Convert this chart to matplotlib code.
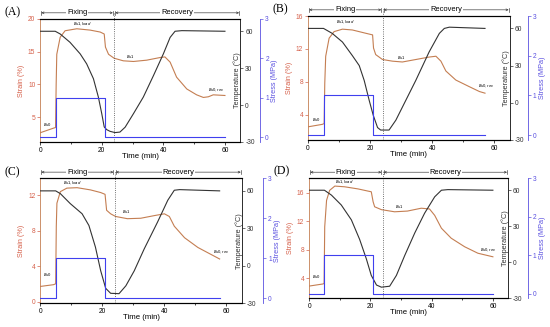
import numpy as np
import matplotlib.pyplot as plt

plt.rcParams['font.family'] = ['Liberation Sans', 'DejaVu Sans']
plt.rcParams['axes.unicode_minus'] = False
plt.rcParams['mathtext.fontset'] = 'custom'
plt.rcParams['mathtext.rm'] = 'Liberation Sans'
plt.rcParams['mathtext.it'] = 'Liberation Sans:italic'

# ---- panel A ----
a_strain_t = [0, 4.3, 5.0, 5.2, 5.4, 6.5, 8.1, 11.9, 16.2, 19.5, 20.8, 21.2, 22.2, 24, 27, 30.3,
              34.6, 38.9, 40.5, 42.2, 44.3, 47.6, 50.8, 53, 54.6, 56.2, 60]
a_strain = [2.6, 3.3, 3.4, 10.0, 14.6, 17.2, 18.2, 18.5, 18.3, 18.0, 17.7, 15.7, 14.6, 14.0, 13.6, 13.5,
            13.7, 14.1, 14.2, 13.4, 11.1, 9.3, 8.4, 8.0, 8.1, 8.4, 8.3]
a_temp_t = [0, 4.9, 6.5, 9.7, 13, 15.1, 17.3, 18.9, 20, 20.8, 21.6, 22.7, 24.3, 25.9, 27.6, 30.3,
            33.5, 36.8, 40, 42.2, 43.8, 46, 60]
a_temp = [60, 60, 57.8, 51, 41.6, 33.5, 21.4, 6.5, -7, -17.8, -20, -21.4, -22.4, -22, -18, -7,
          6.5, 24, 41.6, 55, 60, 60.5, 60]
a_stress_t = [0, 5, 21, 60]
a_stress = [0, 1.0, 0, 0]

# ---- panel B ----
b_strain_t = [0, 4.6, 5.2, 5.4, 5.7, 6.8, 8.4, 11.1, 14.3, 18.6, 20.8, 21.1, 21.8, 24, 27.2, 30.4,
              34.7, 39, 41.2, 42.8, 44.4, 47.6, 51.9, 55.2, 57]
b_strain = [2.5, 2.8, 2.9, 7.8, 11.1, 13.3, 14.1, 14.4, 14.3, 13.9, 13.7, 12.1, 11.3, 10.7, 10.5, 10.4,
            10.7, 11.0, 11.1, 10.5, 9.3, 8.2, 7.4, 6.8, 6.6]
b_temp_t = [0, 5, 7.8, 11.1, 14.3, 16.5, 18.1, 19.7, 21, 22.4, 23.4, 26.1, 28.3, 31.5, 34.7, 39,
            42.3, 43.9, 45.5, 57]
b_temp = [60, 60, 56, 49, 38, 30, 18, 2, -10, -20, -22, -22, -14, 2, 18, 41,
          56, 60, 61, 60]
b_stress_t = [0, 5.2, 21, 57]
b_stress = [0, 1.0, 0, 0]

# ---- panel C ----
c_strain_t = [0, 4.3, 5.0, 5.2, 5.4, 6.5, 8.6, 11.9, 16.2, 19.5, 20.9, 21.4, 22.7, 24.3, 28.1, 32.4,
              36.8, 40, 41.6, 43.2, 46.5, 50.8, 55.1, 57.8]
c_strain = [1.7, 1.9, 2.0, 8.5, 11.1, 12.4, 12.8, 12.85, 12.6, 12.3, 12.1, 10.3, 9.9, 9.6, 9.35, 9.4,
            9.7, 9.9, 9.6, 8.5, 7.2, 6.1, 5.3, 4.8]
c_temp_t = [0, 5, 6.5, 9.7, 13.5, 15.7, 17.8, 19.5, 21.1, 22.7, 25.4, 27.6, 30.3, 33.5, 37.8, 41.1,
            43.2, 44.9, 57.8]
c_temp = [60, 60, 57.8, 49.8, 41.7, 32.3, 15, -4, -18, -22, -22.3, -16, -4, 13.5, 35, 52.5,
          60.5, 61, 60]
c_stress_t = [0, 5, 21, 57.8]
c_stress = [0, 1.0, 0, 0]

# ---- panel D ----
d_strain_t = [0, 4.6, 4.9, 5.1, 5.7, 6.7, 8.4, 11.6, 16, 19.2, 20.3, 20.9, 21.4, 23.6, 27.9, 32.1,
              36.6, 39.3, 41, 43.2, 46.4, 50.8, 55.1, 60]
d_strain = [2.9, 3.2, 3.3, 11.2, 14.9, 16.3, 16.9, 16.8, 16.5, 16.2, 16.1, 14.7, 14.0, 13.6, 13.3, 13.4,
            13.8, 13.7, 12.8, 11.0, 9.6, 8.4, 7.5, 7.0]
d_temp_t = [0, 5, 7.3, 10.5, 13.8, 16.5, 18.7, 20.3, 22, 23.6, 26.3, 28.5, 31.2, 34.5, 37.7, 41,
            43.2, 45.3, 60]
d_temp = [60, 60, 55.9, 47.7, 35.3, 19, 2.7, -11, -19, -20.8, -20, -11, 5.5, 24.4, 40.8, 54.5,
          60, 60.5, 60]
d_stress_t = [0, 4.9, 20.9, 60]
d_stress = [0, 1.0, 0, 0]

# strain label positions (time, strain), label centres
a_marks = [(1.0, 3.8), (10.8, 19.1), (28.0, 14.2), (54.6, 9.0)]
b_marks = [(1.4, 3.3), (8.9, 15.1), (28.8, 10.9), (54.6, 7.4)]
c_marks = [(0.9, 3.0), (7.5, 13.3), (26.5, 10.1), (55.7, 5.5)]
d_marks = [(0.8, 4.1), (8.4, 17.4), (27.9, 13.9), (55.7, 7.8)]
mark_text = [r'$\varepsilon_{s0}$', r'$\varepsilon_{s1,load}$', r'$\varepsilon_{s1}$', r'$\varepsilon_{s0,rec}$']

STRAIN_C = '#c47e52'
STRAIN_AX = '#d5604a'
TEMP_C = '#333333'
STRESS_C = '#4040ee'
STRESS_AX = '#5a50e0'


def panel(rect, tag, st, s, tt, T, pt, p, marks, slim, sticks, off):
    ax = fig.add_axes(rect)
    ax.plot(st, s, color=STRAIN_C, lw=0.8)
    ax.set_xlim(0, 65)
    ax.set_ylim(*slim)
    ax.set_yticks(sticks)
    ax.set_xticks([0, 20, 40, 60])
    ax.set_xticks([10, 30, 50], minor=True)
    ax.tick_params(axis='both', which='both', direction='out', length=2, width=0.5, labelsize=4.8, pad=1.5)
    ax.tick_params(axis='x', which='minor', length=1.2)
    ax.tick_params(axis='y', colors=STRAIN_AX)
    ax.spines['left'].set_color(STRAIN_C)
    for sp in ax.spines.values():
        sp.set_linewidth(0.6)
    ax.set_ylabel('Strain (%)', color=STRAIN_AX, fontsize=5.2, labelpad=2)
    ax.set_xlabel('Time (min)', fontsize=5.6, labelpad=-0.5)
    for (x, y), txt in zip(marks, mark_text):
        ax.text(x, y, txt, fontsize=4.2, ha='left', va='center')

    # temperature axis
    ax2 = ax.twinx()
    ax2.plot(tt, T, color=TEMP_C, lw=0.8)
    ax2.set_ylim(-30, 70)
    ax2.set_yticks([-30, 0, 30, 60])
    ax2.tick_params(direction='out', length=2, width=0.5, labelsize=4.8, pad=1.5, colors=TEMP_C)
    ax2.spines['right'].set_linewidth(0.6)
    ax2.spines['right'].set_color(TEMP_C)
    ax2.set_ylabel('Temperature (°C)', fontsize=5.2, color=TEMP_C)
    ax2.yaxis.set_label_coords(0.965, 0.5)

    # stress axis
    ax3 = ax.twinx()
    ax3.spines['right'].set_position(('axes', off))
    ax3.spines['right'].set_color(STRESS_AX)
    ax3.spines['right'].set_linewidth(0.6)
    ax3.plot(pt, p, color=STRESS_C, lw=0.8, drawstyle='steps-post')
    ax3.set_ylim(-0.12, 3.0)
    ax3.set_yticks([0, 1, 2, 3])
    ax3.tick_params(direction='out', length=2, width=0.5, labelsize=4.8, pad=1.5, colors=STRESS_AX)
    ax3.set_ylabel('Stress (MPa)', fontsize=5.2, color=STRESS_AX, labelpad=1.5)
    for a in (ax2, ax3):
        a.spines['left'].set_visible(False)

    # header with phases
    yh = 1.05
    tr = ax.get_xaxis_transform()
    ax.axvline(24, ymin=0, ymax=yh + 0.01, color='#444444', ls=':', lw=0.6, clip_on=False)
    for x0, x1, lab in [(0, 24, 'Fixing'), (24, 65, 'Recovery')]:
        ax.annotate('', xy=(x0 + 0.4, yh), xytext=(x1 - 0.4, yh), xycoords=tr, textcoords=tr,
                    arrowprops=dict(arrowstyle='<->', lw=0.45, color='#333333',
                                    mutation_scale=3.5, shrinkA=0, shrinkB=0), annotation_clip=False)
        ax.text((x0 + x1) / 2, yh, lab, transform=tr, fontsize=5.4, ha='center', va='center',
                bbox=dict(facecolor='white', edgecolor='none', pad=0.6), clip_on=False)
        for xe in (x0 + 0.4, x1 - 0.4):
            ax.plot([xe, xe], [yh - 0.015, yh + 0.015], transform=tr, color='#333333', lw=0.45, clip_on=False)

    fig.text(rect[0] - 0.064, rect[1] + rect[3] + 0.02, tag, fontsize=8.5, family='Liberation Serif',
             ha='left', va='center')
    return ax


fig = plt.figure(figsize=(5.5, 3.27), dpi=100)

panel([0.073, 0.566, 0.364, 0.376], '(A)', a_strain_t, a_strain, a_temp_t, a_temp,
      a_stress_t, a_stress, a_marks, (1.2, 20), [5, 10, 15, 20], 1.1)
panel([0.560, 0.572, 0.367, 0.379], '(B)', b_strain_t, b_strain, b_temp_t, b_temp,
      b_stress_t, b_stress, b_marks, (0.9, 16), [4, 8, 12, 16], 1.09)
panel([0.073, 0.0725, 0.367, 0.382], '(C)', c_strain_t, c_strain, c_temp_t, c_temp,
      c_stress_t, c_stress, c_marks, (-0.2, 13.9), [0, 4, 8, 12], 1.105)
panel([0.562, 0.088, 0.362, 0.367], '(D)', d_strain_t, d_strain, d_temp_t, d_temp,
      d_stress_t, d_stress, d_marks, (1.2, 18), [4, 8, 12, 16], 1.1)

fig.savefig('out.png', dpi=100)
